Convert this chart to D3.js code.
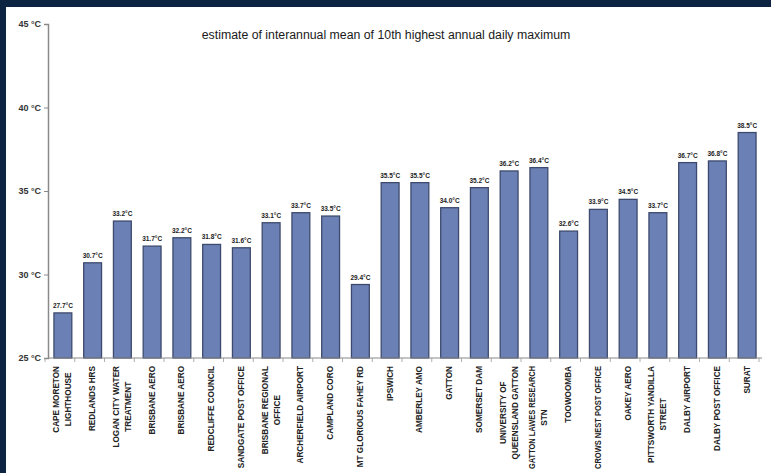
<!DOCTYPE html>
<html>
<head>
<meta charset="utf-8">
<script src="https://cdn.jsdelivr.net/npm/d3@7"></script>
<style>
  html, body { margin: 0; padding: 0; background: #0c2341; }
  svg { display: block; }
  text { font-family: "Liberation Sans", Arial, sans-serif; }
</style>
</head>
<body>
<script>
// Station names (each entry is a list of label lines)
const stations = [
  ["CAPE MORETON", "LIGHTHOUSE"],
  ["REDLANDS HRS"],
  ["LOGAN CITY WATER", "TREATMENT"],
  ["BRISBANE AERO"],
  ["BRISBANE AERO"],
  ["REDCLIFFE COUNCIL"],
  ["SANDGATE POST OFFICE"],
  ["BRISBANE REGIONAL", "OFFICE"],
  ["ARCHERFIELD AIRPORT"],
  ["CAMPLAND CORO"],
  ["MT GLORIOUS FAHEY RD"],
  ["IPSWICH"],
  ["AMBERLEY AMO"],
  ["GATTON"],
  ["SOMERSET DAM"],
  ["UNIVERSITY OF", "QUEENSLAND GATTON"],
  ["GATTON LAWES RESEARCH", "STN"],
  ["TOOWOOMBA"],
  ["CROWS NEST POST OFFICE"],
  ["OAKEY AERO"],
  ["PITTSWORTH YANDILLA", "STREET"],
  ["DALBY AIRPORT"],
  ["DALBY POST OFFICE"],
  ["SURAT"]
];

// Interannual mean of the 10th highest annual daily maximum (°C)
const meanTmax = [
  27.7, 30.7, 33.2, 31.7, 32.2, 31.8, 31.6, 33.1, 33.7, 33.5, 29.4, 35.5,
  35.5, 34.0, 35.2, 36.2, 36.4, 32.6, 33.9, 34.5, 33.7, 36.7, 36.8, 38.5
];

const yTicks = [25, 30, 35, 40, 45];
const chartTitle = "estimate of interannual mean of 10th highest annual daily maximum";

const W = 771, H = 473;
const svg = d3.select("body").append("svg").attr("width", W).attr("height", H);

// white chart panel with navy frame on top and left
svg.append("rect").attr("x", 6).attr("y", 7).attr("width", W - 6).attr("height", H - 7).attr("fill", "#ffffff");

const plot = { left: 48, right: 762, top: 24, bottom: 358 };

const x = d3.scaleBand()
  .domain(d3.range(stations.length))
  .range([plot.left, plot.right])
  .paddingInner(0.4)
  .paddingOuter(0.2);

const y = d3.scaleLinear().domain([25, 45]).range([plot.bottom, plot.top]);

// title
svg.append("text")
  .attr("x", 386).attr("y", 39)
  .attr("text-anchor", "middle")
  .attr("font-size", 12.3)
  .attr("fill", "#1a1a1a")
  .text(chartTitle);

// bars
svg.append("g").selectAll("rect")
  .data(meanTmax)
  .join("rect")
  .attr("x", (d, i) => x(i))
  .attr("y", d => y(d))
  .attr("width", x.bandwidth())
  .attr("height", d => y(25) - y(d))
  .attr("fill", "#6b80b5")
  .attr("stroke", "#3d4a6d")
  .attr("stroke-width", 1.3);

// value labels
svg.append("g").selectAll("text")
  .data(meanTmax)
  .join("text")
  .attr("x", (d, i) => x(i) + x.bandwidth() / 2)
  .attr("y", d => y(d) - 5)
  .attr("text-anchor", "middle")
  .attr("font-size", 6.5)
  .attr("font-weight", "bold")
  .attr("fill", "#222")
  .text(d => d.toFixed(1) + "°C");

// y axis
const yAxis = svg.append("g")
  .attr("transform", `translate(${plot.left},0)`)
  .call(d3.axisLeft(y).tickValues(yTicks).tickSize(4).tickPadding(3).tickFormat(d => d + " °C"));
yAxis.select(".domain").attr("stroke", "#8a8a8a").attr("stroke-width", 1.5);
yAxis.selectAll(".tick line").attr("stroke", "#8a8a8a");
yAxis.selectAll(".tick text")
  .attr("font-family", "Liberation Sans, Arial, sans-serif")
  .attr("font-size", 9).attr("font-weight", "bold").attr("fill", "#333");

// x axis line with separators between categories
svg.append("line")
  .attr("x1", plot.left).attr("x2", plot.right)
  .attr("y1", plot.bottom).attr("y2", plot.bottom)
  .attr("stroke", "#8a8a8a").attr("stroke-width", 1.2);
const step = x.step();
svg.append("g").selectAll("line")
  .data(d3.range(stations.length + 1))
  .join("line")
  .attr("x1", i => x(0) - step * 0.3 + i * step)
  .attr("x2", i => x(0) - step * 0.3 + i * step)
  .attr("y1", plot.bottom).attr("y2", plot.bottom + 4)
  .attr("stroke", "#999").attr("stroke-width", 0.8);

// rotated category labels (reading upward), lines laid out left to right, centred on each other;
// very long lines are squeezed so they stay inside the panel
const lineGap = 12;
const labelTop = 366;
const maxLabel = 103;
const lab = svg.append("g");
stations.forEach((lines, i) => {
  const cx = x(i) + x.bandwidth() / 2;
  const g = lab.append("g");
  const texts = lines.map((ln, k) => {
    const off = (k - (lines.length - 1) / 2) * lineGap;
    const t = g.append("text")
      .attr("font-size", 8.2)
      .attr("font-weight", "bold")
      .attr("fill", "#222")
      .attr("text-anchor", "middle")
      .attr("dominant-baseline", "central")
      .attr("data-off", off)
      .text(ln);
    const len = t.node().getComputedTextLength();
    if (len > maxLabel) t.attr("textLength", maxLabel).attr("lengthAdjust", "spacingAndGlyphs");
    return t;
  });
  const maxLen = d3.max(texts, t => Math.min(maxLabel, t.node().getComputedTextLength()));
  texts.forEach(t => {
    const off = +t.attr("data-off");
    t.attr("transform", `translate(${cx + off},${labelTop + maxLen / 2}) rotate(-90)`);
  });
});
</script>
</body>
</html>
